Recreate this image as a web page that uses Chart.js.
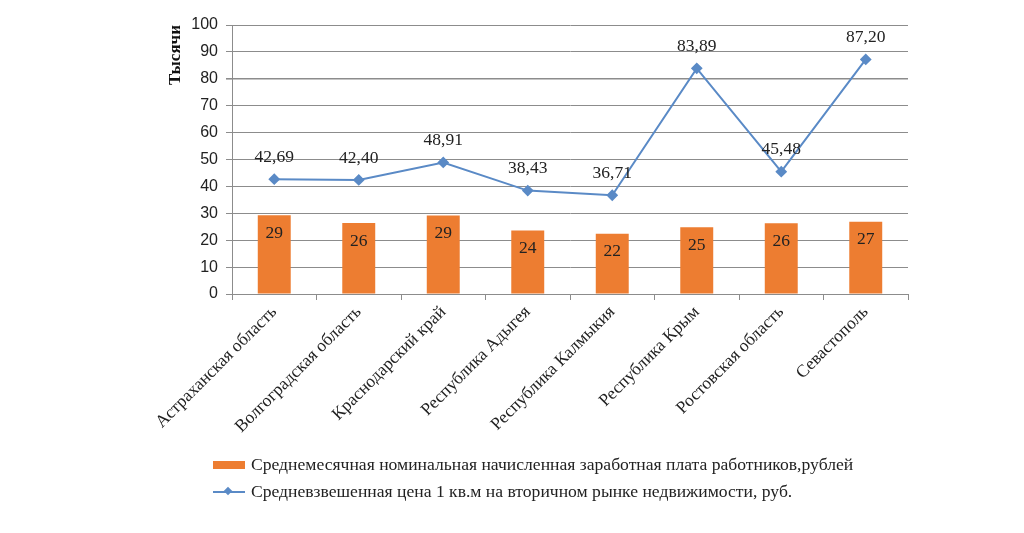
<!DOCTYPE html>
<html>
<head>
<meta charset="utf-8">
<script src="https://cdn.jsdelivr.net/npm/chart.js@4/dist/chart.umd.min.js"></script>
<style>
    body { margin: 0; background: #fff; }
    .wrap { position: relative; width: 1024px; height: 533px; }
    .legend { position: absolute; left: 213px; top: 451px; font: 17.6px "Liberation Serif", serif; color: #222; }
    .legend div { height: 27px; display: flex; align-items: center; }
    .sw { width: 32px; height: 8px; background: #ed7d31; margin-right: 6px; }
    .ln { width: 32px; height: 2px; background: #5a8ac6; margin-right: 6px; position: relative; }
    .ln::after { content: ''; position: absolute; left: 12px; top: -3px; width: 6px; height: 6px; background: #5a8ac6; transform: rotate(45deg); }
</style>
</head>
<body>
<div class="wrap">
    <canvas id="chart" width="1024" height="533"></canvas>
    <div class="legend">
        <div><span class="sw"></span>Среднемесячная номинальная начисленная заработная плата работников,рублей</div>
        <div><span class="ln"></span>Средневзвешенная цена 1 кв.м на вторичном рынке недвижимости, руб.</div>
    </div>
</div>
<script>
// Данные
const regions = ['Астраханская область', 'Волгоградская область', 'Краснодарский край', 'Республика Адыгея',
    'Республика Калмыкия', 'Республика Крым', 'Ростовская область', 'Севастополь'];
const wages = [29.3, 26.4, 29.2, 23.6, 22.4, 24.8, 26.3, 26.9];
const prices = [42.69, 42.40, 48.91, 38.43, 36.71, 83.89, 45.48, 87.20];
const yTicks = [0, 10, 20, 30, 40, 50, 60, 70, 80, 90, 100];

// Подписи значений
const valueLabels = {
    id: 'valueLabels',
    afterDatasetsDraw(chart) {
        const ctx = chart.ctx;
        ctx.save();
        ctx.font = '17.5px "Liberation Serif"';
        ctx.fillStyle = '#222';
        ctx.textAlign = 'center';
        ctx.textBaseline = 'middle';
        chart.getDatasetMeta(0).data.forEach((bar, i) => {
            ctx.fillText(Math.round(wages[i]), bar.x, bar.y + 18);
        });
        chart.getDatasetMeta(1).data.forEach((pt, i) => {
            ctx.fillText(prices[i].toFixed(2).replace('.', ','), pt.x, pt.y - 22);
        });
        ctx.restore();
    }
};

const ctx = document.getElementById('chart').getContext('2d');
const chart = new Chart(ctx, {
    type: 'bar',
    data: {
        labels: regions,
        datasets: [{
            label: 'Среднемесячная номинальная начисленная заработная плата работников,рублей',
            data: wages,
            backgroundColor: '#ed7d31',
            categoryPercentage: 1,
            barPercentage: 0.39,
            order: 1
        }, {
            type: 'line',
            label: 'Средневзвешенная цена 1 кв.м на вторичном рынке недвижимости, руб.',
            data: prices,
            borderColor: '#5a8ac6',
            backgroundColor: '#5a8ac6',
            borderWidth: 2,
            pointStyle: 'rectRot',
            pointRadius: 4.5,
            tension: 0,
            order: 0
        }]
    },
    options: {
        responsive: false,
        animation: false,
        layout: { padding: { left: 161, right: 116, top: 25, bottom: 0 } },
        plugins: {
            legend: { display: false },
            tooltip: { enabled: false }
        },
        scales: {
            x: {
                grid: { offset: true, drawOnChartArea: false, tickLength: 6, color: '#8c8c8c' },
                border: { color: '#8c8c8c' },
                ticks: {
                    minRotation: 45, maxRotation: 45, padding: 2,
                    color: '#222', font: { family: 'Liberation Serif', size: 17.5 }
                },
                afterFit(scale) { scale.height = 239; }
            },
            y: {
                min: 0, max: 100,
                afterBuildTicks(scale) { scale.ticks = yTicks.map(v => ({ value: v })); },
                grid: {
                    tickLength: 6,
                    color: '#8c8c8c',
                    lineWidth: c => (c.tick && c.tick.value === 80 ? 1.6 : 1)
                },
                border: { color: '#8c8c8c' },
                ticks: { padding: 8, color: '#222', font: { family: 'Liberation Sans', size: 16 } },
                title: {
                    display: true, text: 'Тысячи', align: 'end', padding: 4,
                    color: '#111', font: { family: 'Liberation Serif', size: 17, weight: 'bold' }
                },
                afterFit(scale) { scale.width = 71; }
            }
        }
    },
    plugins: [valueLabels]
});
</script>
</body>
</html>
